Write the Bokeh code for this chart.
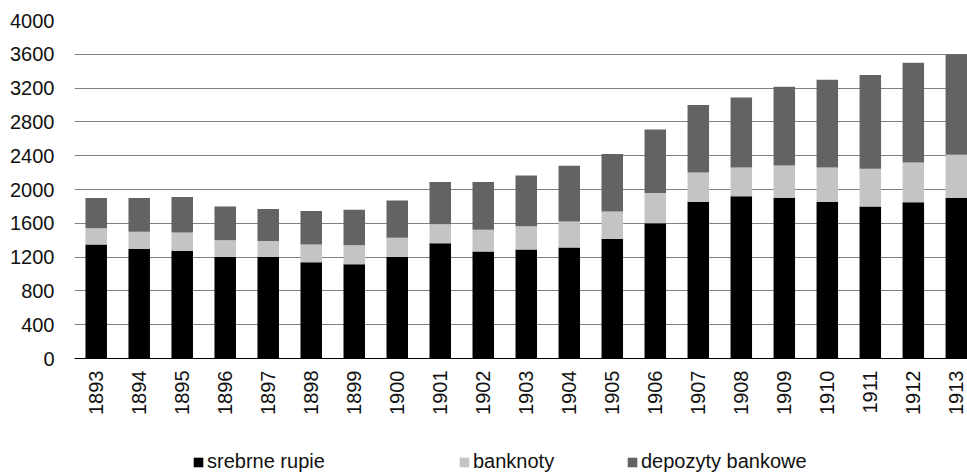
import math
from bokeh.plotting import figure
from bokeh.layouts import column
from bokeh.models import ColumnDataSource, FixedTicker, Legend, LegendItem, Range1d
from bokeh.embed import file_html
from bokeh.resources import INLINE

# Money supply components, 1893-1913
years = ["1893", "1894", "1895", "1896", "1897", "1898", "1899", "1900", "1901", "1902", "1903",
         "1904", "1905", "1906", "1907", "1908", "1909", "1910", "1911", "1912", "1913"]
srebrne_rupie = [1350, 1300, 1275, 1200, 1200, 1140, 1115, 1200, 1365, 1265, 1290,
                 1315, 1415, 1600, 1855, 1920, 1900, 1855, 1800, 1850, 1900]
banknoty = [190, 200, 215, 200, 190, 210, 225, 230, 225, 260, 275,
            305, 325, 360, 345, 340, 385, 405, 445, 470, 510]
depozyty_bankowe = [360, 400, 420, 400, 380, 395, 420, 440, 500, 565, 600,
                    660, 680, 750, 800, 830, 930, 1040, 1110, 1180, 1190]
y_ticks = [0, 400, 800, 1200, 1600, 2000, 2400, 2800, 3200, 3600, 4000]

series = ["srebrne_rupie", "banknoty", "depozyty_bankowe"]
labels = ["srebrne rupie", "banknoty", "depozyty bankowe"]
colors = ["#000000", "#c4c4c4", "#636363"]

x = list(range(len(years)))
source = ColumnDataSource(dict(x=x, srebrne_rupie=srebrne_rupie, banknoty=banknoty,
                               depozyty_bankowe=depozyty_bankowe))

FONT = "Liberation Sans"
SIZE = "20px"

p = figure(width=967, height=440, output_backend="svg", toolbar_location=None,
           x_range=Range1d(-0.505, 20.26), y_range=Range1d(0, 4000),
           min_border_left=74, min_border_right=0, min_border_top=20, min_border_bottom=82)
p.outline_line_color = None
p.background_fill_color = "white"
p.border_fill_color = "white"

renderers = p.vbar_stack(series, x="x", width=0.5, color=colors, line_color=None, source=source)

# y axis
p.yaxis.ticker = FixedTicker(ticks=y_ticks)
p.yaxis.axis_line_color = None
p.yaxis.major_tick_line_color = None
p.yaxis.minor_tick_line_color = None
p.yaxis.major_label_text_font = FONT
p.yaxis.major_label_text_font_size = SIZE
p.yaxis.major_label_text_color = "#111111"
p.yaxis.major_label_standoff = 14

# x axis with vertical year labels
p.xaxis.ticker = FixedTicker(ticks=x)
p.xaxis.major_label_overrides = {i: y for i, y in zip(x, years)}
p.xaxis.major_label_orientation = math.pi / 2
p.xaxis.axis_line_color = "#000000"
p.xaxis.axis_line_width = 1
p.xaxis.major_tick_line_color = None
p.xaxis.major_tick_out = 0
p.xaxis.major_tick_in = 0
p.xaxis.minor_tick_line_color = None
p.xaxis.major_label_text_font = FONT
p.xaxis.major_label_text_font_size = SIZE
p.xaxis.major_label_text_color = "#111111"
p.xaxis.major_label_standoff = 12

p.xgrid.grid_line_color = None
p.ygrid.grid_line_color = "#808080"
p.ygrid.grid_line_width = 1

# legend strip under the chart; each swatch renderer holds a single blank row,
# so nothing is plotted and it only lends its colour to the legend
key = figure(width=967, height=33, output_backend="svg", toolbar_location=None,
             x_range=Range1d(0, 1), y_range=Range1d(0, 1),
             x_axis_location=None, y_axis_location=None, min_border=0)
key.outline_line_color = None
key.grid.grid_line_color = None
key_x = [118, 384, 552]
for lab, c, lx in zip(labels, colors, key_x):
    swatch = key.vbar(x=[math.nan], top=[math.nan], width=0.5, color=c, line_color=None)
    lg = Legend(items=[LegendItem(label=lab, renderers=[swatch])], location=(lx, 0),
                orientation="horizontal", glyph_width=12, glyph_height=12,
                label_standoff=3, padding=0, margin=0, spacing=0,
                border_line_color=None, background_fill_alpha=0,
                label_text_font=FONT, label_text_font_size=SIZE, label_text_color="#111111")
    key.add_layout(lg, "center")

layout = column(p, key, spacing=0)
open("out.html", "w").write(file_html(layout, INLINE))
